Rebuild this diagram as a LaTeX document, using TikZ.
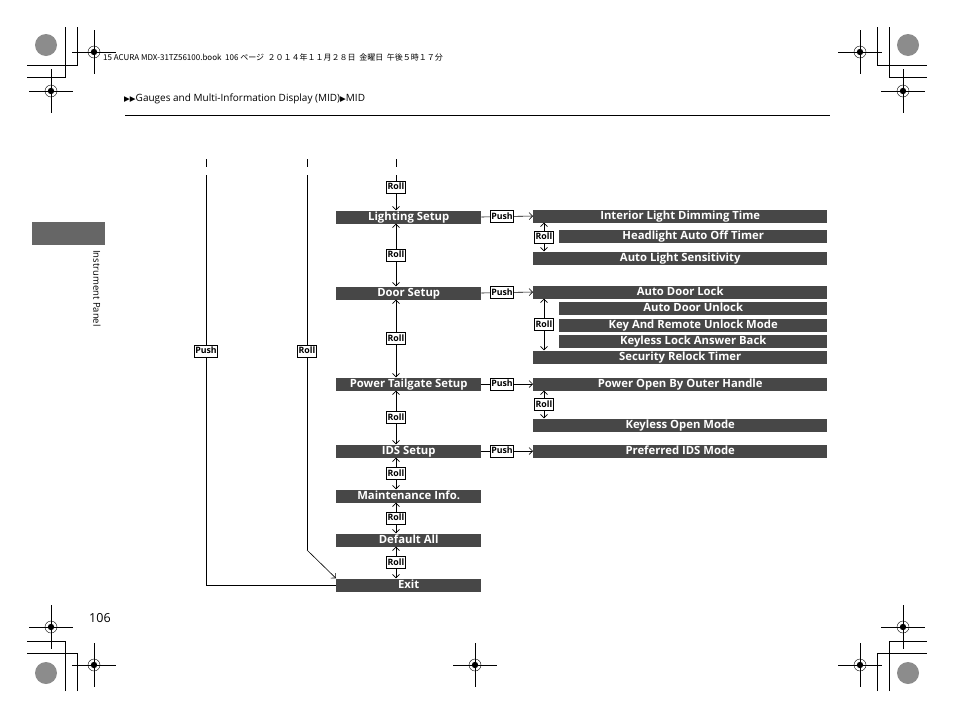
\documentclass[tikz,border=0pt]{standalone}
\usepackage{fontspec}
\setmainfont{Open Sans}
\newfontfamily\cjkfont{Noto Sans CJK JP}
\newfontfamily\symfont{DejaVu Sans}
\usetikzlibrary{arrows.meta,positioning}

\newcommand{\regmark}[2]{%
  \draw[thin] (#1,#2) circle (6);
  \fill (#1,#2) circle (3.2);
  \draw[thick] (#1-22,#2) -- (#1+22,#2) (#1,#2-22) -- (#1,#2+22);}

\begin{document}
\begin{tikzpicture}[
    x=1pt, y=-1pt,
    menubar/.style={rectangle, fill=black!72, text=white, font=\bfseries\fontsize{11.3}{12}\selectfont, minimum height=13pt, text height=8.2pt, text depth=1.8pt, inner sep=0pt, anchor=west},
    mainbar/.style={menubar, minimum width=145pt},
    tag/.style={rectangle, draw, fill=white, font=\bfseries\fontsize{8.8}{9}\selectfont, inner sep=1pt, text height=6.5pt, text depth=1.5pt, minimum height=12pt},
    arrow/.style={-{Straight Barb[length=3.5pt,width=7pt]}, semithick}
]
\useasboundingbox (0,0) rectangle (954,718);

% print marks
\fill[black!45] (46,45) circle (11) (908,45) circle (11) (46,673) circle (11) (908,673) circle (11);
\draw[semithick] (65,27) -- (65,77) -- (27,77) (77,27) -- (77,65) -- (27,65);
\draw[semithick] (889,27) -- (889,77) -- (927,77) (877,27) -- (877,65) -- (927,65);
\draw[semithick] (65,691) -- (65,641) -- (27,641) (77,691) -- (77,653) -- (27,653);
\draw[semithick] (889,691) -- (889,641) -- (927,641) (877,691) -- (877,653) -- (927,653);
\regmark{94}{52} \regmark{51}{91} \regmark{860}{52} \regmark{903}{91}
\regmark{51}{627} \regmark{94}{665} \regmark{475}{665} \regmark{860}{665} \regmark{903}{627}

% page header
\node[anchor=west, font=\cjkfont\fontsize{8}{9}\selectfont, inner sep=0pt] (bookinfo) at (103,57) {15 ACURA MDX-31TZ56100.book\ \ 106 ページ\ \ ２０１４年１１月２８日\ \ 金曜日\ \ 午後５時１７分};
\node[anchor=west, font=\fontsize{10}{11}\selectfont, inner sep=0pt] (crumb) at (124,99) {{\symfont\fontsize{7.5}{8}\selectfont ▶▶}Gauges and Multi-Information Display (MID){\symfont\fontsize{7.5}{8}\selectfont ▶}MID};
\draw[semithick] (125,115) -- (830,115);
\fill[black!60] (32,222) rectangle (105,245);
\node[rotate=-90, anchor=west, font=\fontsize{9.5}{10}\selectfont, inner sep=0pt] (tabtext) at (97,250) {Instrument Panel};
\node[anchor=west, font=\fontsize{12.5}{13}\selectfont, inner sep=0pt] (pagenum) at (89,618) {106};

% main menu
\node[mainbar] (light) at (336,217) {Lighting Setup};
\node[mainbar] (door) at (336,293) {Door Setup};
\node[mainbar] (tail) at (336,384) {Power Tailgate Setup};
\node[mainbar] (ids) at (336,451) {IDS Setup};
\node[mainbar] (maint) at (336,496) {Maintenance Info.};
\node[mainbar] (default) at (336,540) {Default All};
\node[mainbar] (exit) at (336,585) {Exit};

% sub menus
\foreach \name/\ypos/\xpos/\barw/\txt in {
    ild/216/533/294/Interior Light Dimming Time, hat/236/559/268/Headlight Auto Off Timer,
    als/258/533/294/Auto Light Sensitivity, adl/292/533/294/Auto Door Lock,
    adu/308/559/268/Auto Door Unlock, kru/325/559/268/Key And Remote Unlock Mode,
    kla/341/559/268/Keyless Lock Answer Back, srt/357/533/294/Security Relock Timer,
    poh/384/533/294/Power Open By Outer Handle, kom/425/533/294/Keyless Open Mode,
    pim/451/533/294/Preferred IDS Mode}
  \node[menubar, minimum width=\barw pt] (\name) at (\xpos,\ypos) {\txt};

% top entry
\coordinate (top) at (396,175);
\draw[semithick] (396,159) -- (396,167) (206,159) -- (206,167) (307,159) -- (307,167);
\draw[arrow] (top) -- node[tag, pos=0.35] {Roll} (light.north -| top);

% main roll arrows
\foreach \a/\b in {light/door, door/tail, tail/ids, ids/maint, maint/default, default/exit}
  \draw[arrow, {Straight Barb[length=3.5pt,width=7pt]}-{Straight Barb[length=3.5pt,width=7pt]}] (\a.south -| top) -- node[tag] {Roll} (\b.north -| top);

% push arrows
\foreach \a/\b in {light/ild, door/adl, tail/poh, ids/pim}
  \draw[arrow] (\a.east) -- node[tag, pos=0.4] {Push} (\b.west);

% sub roll arrows
\coordinate (subx) at (544,0);
\foreach \a/\b in {ild/als, adl/srt, poh/kom}
  \draw[arrow, {Straight Barb[length=3.5pt,width=7pt]}-{Straight Barb[length=3.5pt,width=7pt]}] (\a.south -| subx) -- node[tag] {Roll} (\b.north -| subx);

% return paths
\coordinate (pushtop) at (206,175);
\coordinate (rolltop) at (307,175);
\coordinate (rollbend) at (307,550);
\draw[semithick] (pushtop) -- node[tag, pos=0.43] {Push} (pushtop |- exit) -- (exit.west);
\draw[semithick] (rolltop) -- node[tag, pos=0.47] {Roll} (rollbend);
\draw[arrow] (rollbend) -- (exit.north west);
\end{tikzpicture}
\end{document}
